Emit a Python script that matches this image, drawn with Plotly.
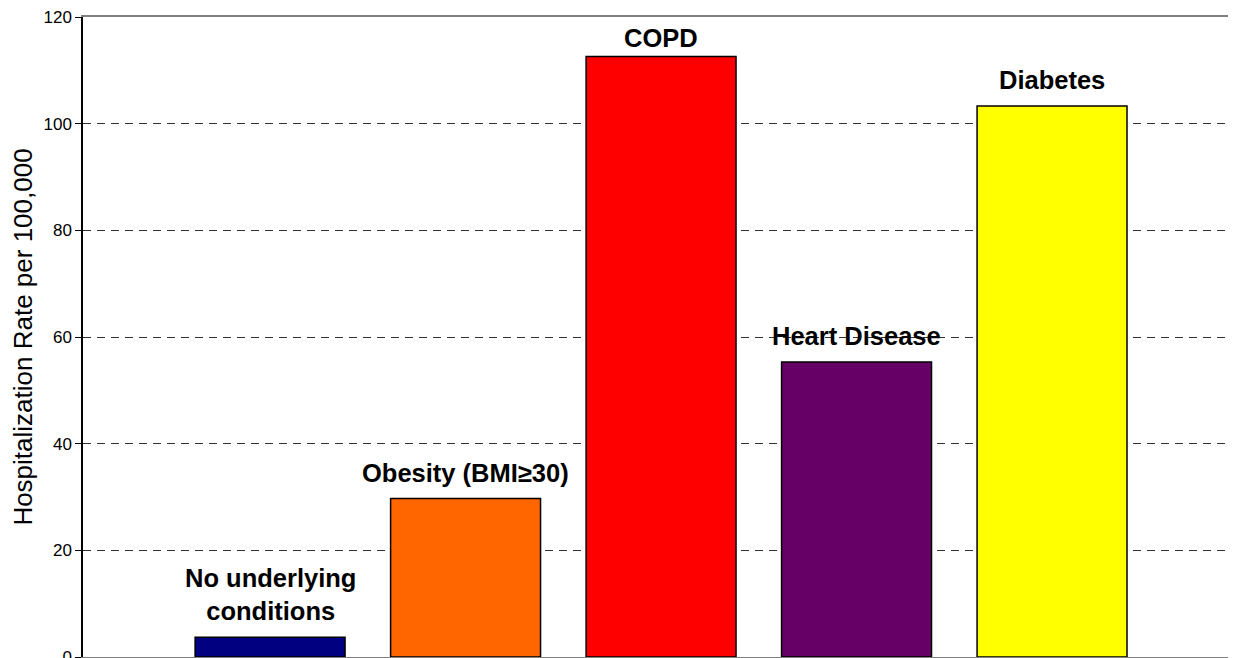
import plotly.graph_objects as go

categories = ["No underlying<br>conditions", "Obesity (BMI≥30)", "COPD", "Heart Disease", "Diabetes"]
rates = [3.7, 29.7, 112.6, 55.3, 103.3]
bar_colors = ["#000080", "#FF6600", "#FF0000", "#660066", "#FFFF00"]
label_shifts = [10, 10, 2, 10, 10]
y_ticks = [0, 20, 40, 60, 80, 100, 120]

positions = list(range(len(categories)))

fig = go.Figure()
fig.add_trace(go.Bar(
    x=positions, y=rates, width=0.767,
    marker=dict(color=bar_colors, line=dict(color="black", width=1.5)),
    hoverinfo="skip", showlegend=False,
))

for xi, (cat, val, sh) in enumerate(zip(categories, rates, label_shifts)):
    fig.add_annotation(x=xi, y=val, text="<b>" + cat + "</b>", showarrow=False,
                       yanchor="bottom", xanchor="center", yshift=sh,
                       font=dict(size=25.5, color="black", family="Arial, Liberation Sans"))

# page body has an 8px default margin; size the figure to fill the rest of the window
fig.update_layout(
    width=1228, height=650,
    margin=dict(l=75, r=0, t=9, b=1, autoexpand=False),
    paper_bgcolor="white", plot_bgcolor="white",
    font=dict(family="Arial, Liberation Sans", color="black"),
    xaxis=dict(range=[-0.957, 4.941], showticklabels=False, ticks="",
               showgrid=False, zeroline=False, showline=True, mirror=True,
               linecolor="#808080", linewidth=2, automargin=False),
    yaxis=dict(range=[0, 120], tickvals=y_ticks, ticks="outside", ticklen=6,
               tickcolor="black", tickwidth=1, showline=True, linecolor="black",
               linewidth=1.5, showgrid=True, gridcolor="#333333", griddash="8px,6px",
               gridwidth=1, zeroline=False, tickfont=dict(size=17),
               ticklabeloverflow="allow", automargin=False,
               title=dict(text="Hospitalization Rate per 100,000", font=dict(size=26), standoff=9)),
)

fig.write_html("out.html")
